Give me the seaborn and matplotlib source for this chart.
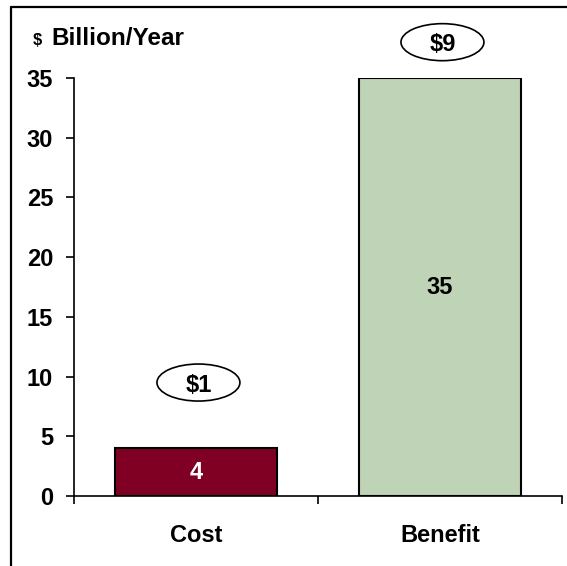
import matplotlib
matplotlib.use("Agg")
import matplotlib.pyplot as plt
from matplotlib.patches import Ellipse
from matplotlib.lines import Line2D
import seaborn as sns
import pandas as pd

categories = ["Cost", "Benefit"]
values = [4, 35]
ratio_labels = ["$1", "$9"]
bar_colors = ["#7F0022", "#BFD3B6"]
value_text_colors = ["white", "black"]
y_ticks = [0, 5, 10, 15, 20, 25, 30, 35]

sns.set_theme(style="white")
plt.rcParams["font.family"] = ["Liberation Sans", "DejaVu Sans"]
plt.rcParams["font.weight"] = "bold"
plt.rcParams["text.color"] = "black"

df = pd.DataFrame({"category": categories, "value": values})

fig = plt.figure(figsize=(5.67, 5.66), dpi=100)
ax = fig.add_axes([74 / 567, 1 - 496 / 566, (562 - 74) / 567, (496 - 78) / 566])

sns.barplot(data=df, x="category", y="value", hue="category", palette=bar_colors,
            width=0.664, edgecolor="black", linewidth=1.5, legend=False, ax=ax,
            saturation=1)

FS = 17
ax.set_xlim(-0.5, 1.5)
ax.set_ylim(0, 35)
ax.set_xlabel("")
ax.set_ylabel("")
ax.set_yticks(y_ticks)
ax.set_yticklabels([str(t) for t in y_ticks], fontsize=FS, fontweight="bold", color="black")
ax.set_xticks([0, 1])
ax.set_xticklabels(categories, fontsize=FS, fontweight="bold", color="black")
ax.set_xticks([-0.5, 0.5, 1.5], minor=True)
ax.tick_params(axis="x", which="major", length=0, pad=20.5, colors="black")
ax.tick_params(axis="x", which="minor", length=6, width=1.2, direction="out", color="black", bottom=True)
ax.tick_params(axis="y", which="major", length=6, width=1.2, direction="out", pad=9, colors="black", left=True)

for side in ["top", "right"]:
    ax.spines[side].set_visible(False)
for side in ["left", "bottom"]:
    ax.spines[side].set_color("black")
    ax.spines[side].set_linewidth(1.2)

for container, col in zip(ax.containers, value_text_colors):
    ax.bar_label(container, label_type="center", fontsize=FS, fontweight="bold", color=col)

# ratio ellipses
ratio_y = [9.5, 38.0]
for i, (lab, yy) in enumerate(zip(ratio_labels, ratio_y)):
    e = Ellipse((i + 0.01, yy), width=0.34, height=3.1, facecolor="white",
                edgecolor="black", linewidth=1.2, clip_on=False, zorder=5)
    ax.add_patch(e)
    ax.text(i + 0.01, yy, lab, ha="center", va="center_baseline", fontsize=FS,
            fontweight="bold", zorder=6, clip_on=False, color="black")

# title
fig.text(33 / 567, 1 - 45 / 566, "$", fontsize=12, fontweight="bold", va="baseline", ha="left", color="black")
fig.text(51 / 567, 1 - 45 / 566, "Billion/Year", fontsize=17.5, fontweight="bold", va="baseline", ha="left", color="black")

# figure frame (left and top)
fig.add_artist(Line2D([11 / 567, 11 / 567], [0, 1 - 7 / 566], transform=fig.transFigure,
                      color="black", linewidth=1.6))
fig.add_artist(Line2D([11 / 567, 1], [1 - 7 / 566, 1 - 7 / 566], transform=fig.transFigure,
                      color="black", linewidth=1.6))

fig.savefig("out.png", dpi=100)
